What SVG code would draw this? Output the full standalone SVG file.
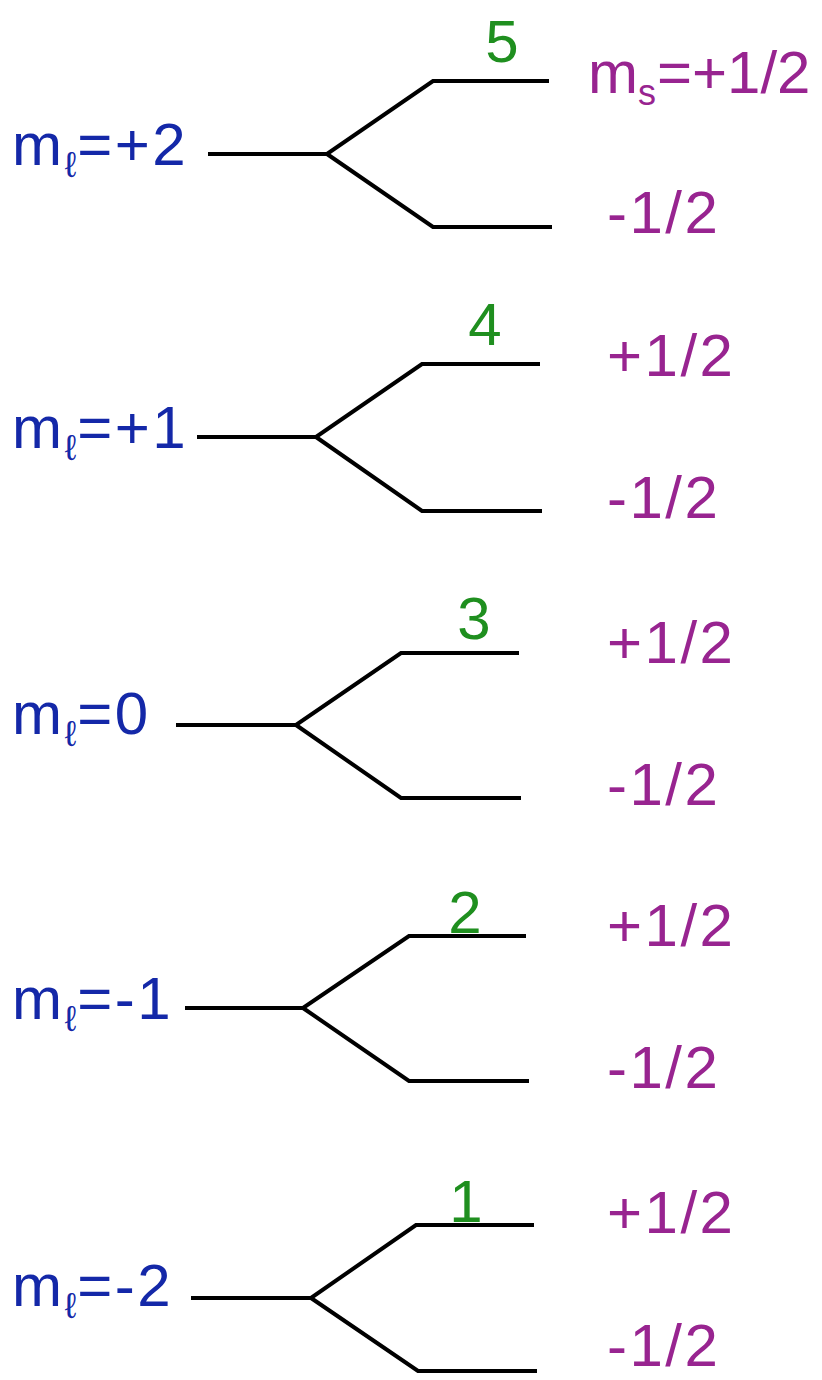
<svg xmlns="http://www.w3.org/2000/svg" width="822" height="1380" viewBox="0 0 822 1380">
<style>
.t{font-family:"Liberation Sans","DejaVu Sans",sans-serif;font-size:60px;letter-spacing:2.5px}
.ml{fill:#1428a8}
.sub{font-size:36px;letter-spacing:1px}
.n{fill:#1f8f1f;text-anchor:middle;letter-spacing:0}
.ms{fill:#982490}
.tight{letter-spacing:0}
.ln{fill:none;stroke:#000;stroke-width:4;stroke-linejoin:miter}
</style>
<rect width="822" height="1380" fill="#fff"/>
<g id="connectors">
<path class="ln" d="M208 154H327L433 81H549M327 154L433 227H552"/>
<path class="ln" d="M197 437H316L422 364H540M316 437L422 511H542"/>
<path class="ln" d="M176 725H296L401 653H519M296 725L401 798H521"/>
<path class="ln" d="M185 1008H303L409 936H526M303 1008L409 1081H529"/>
<path class="ln" d="M191 1298H311L416 1225H534M311 1298L418 1371H537"/>
</g>
<g id="level-ml-p2">
<text class="t ml" x="12" y="165">m<tspan class="sub" dy="12">ℓ</tspan><tspan dy="-12">=+2</tspan></text>
<text class="t n" x="502" y="62">5</text>
<text class="t ms tight" x="588" y="93">m<tspan class="sub" dy="12">s</tspan><tspan dy="-12">=+1/2</tspan></text>
<text class="t ms" x="607" y="233">-1/2</text>
</g>
<g id="level-ml-p1">
<text class="t ml" x="12" y="448">m<tspan class="sub" dy="12">ℓ</tspan><tspan dy="-12">=+1</tspan></text>
<text class="t n" x="485" y="345">4</text>
<text class="t ms" x="607" y="376">+1/2</text>
<text class="t ms" x="607" y="518">-1/2</text>
</g>
<g id="level-ml-0">
<text class="t ml" x="12" y="734">m<tspan class="sub" dy="12">ℓ</tspan><tspan dy="-12">=0</tspan></text>
<text class="t n" x="474" y="639">3</text>
<text class="t ms" x="607" y="663">+1/2</text>
<text class="t ms" x="607" y="805">-1/2</text>
</g>
<g id="level-ml-m1">
<text class="t ml" x="12" y="1019">m<tspan class="sub" dy="12">ℓ</tspan><tspan dy="-12">=-1</tspan></text>
<text class="t n" x="465" y="933">2</text>
<text class="t ms" x="607" y="946">+1/2</text>
<text class="t ms" x="607" y="1088">-1/2</text>
</g>
<g id="level-ml-m2">
<text class="t ml" x="12" y="1306">m<tspan class="sub" dy="12">ℓ</tspan><tspan dy="-12">=-2</tspan></text>
<text class="t n" x="466" y="1222">1</text>
<text class="t ms" x="607" y="1233">+1/2</text>
<text class="t ms" x="607" y="1366">-1/2</text>
</g>
</svg>
